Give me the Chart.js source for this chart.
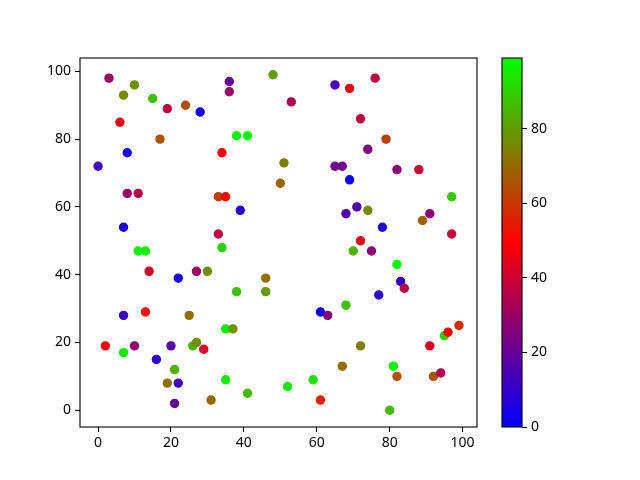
<!DOCTYPE html>
<html>
<head>
<meta charset="utf-8">
<script src="https://cdn.jsdelivr.net/npm/chart.js@4.4.0/dist/chart.umd.min.js"></script>
<style>
  body { margin: 0; background: #fff; }
  #wrap { position: relative; width: 640px; height: 480px; }
  #wrap canvas { position: absolute; left: 0; top: 0; }
</style>
</head>
<body>
<div id="wrap">
  <canvas id="plot" width="640" height="480"></canvas>
  <canvas id="cbar" width="640" height="480"></canvas>
</div>
<script>
// scatter points
const xVals = [3, 7, 10, 15, 6, 19, 24, 28, 36, 36, 38, 41, 17, 8, 34, 0, 8, 11, 33, 35, 39, 7, 33,
  48, 65, 69, 76, 53, 72, 79, 74, 51, 65, 67, 82, 88, 69, 50, 97, 71, 68, 74, 78, 91, 89, 97,
  72, 70, 75, 82, 83, 84, 77, 46, 46, 68, 61, 63, 72, 67, 81, 82, 92, 94, 91, 95, 96, 99, 59, 52, 61, 80,
  11, 13, 34, 14, 27, 30, 22, 38, 7, 13, 25, 35, 37, 2, 7, 10, 20, 26, 27, 29, 16, 21, 19, 22, 35, 41, 21, 31];
const yVals = [98, 93, 96, 92, 85, 89, 90, 88, 97, 94, 81, 81, 80, 76, 76, 72, 64, 64, 63, 63, 59, 54, 52,
  99, 96, 95, 98, 91, 86, 80, 77, 73, 72, 72, 71, 71, 68, 67, 63, 60, 58, 59, 54, 58, 56, 52,
  50, 47, 47, 43, 38, 36, 34, 39, 35, 31, 29, 28, 19, 13, 13, 10, 10, 11, 19, 22, 23, 25, 9, 7, 3, 0,
  47, 47, 48, 41, 41, 41, 39, 35, 28, 29, 28, 24, 24, 19, 17, 19, 19, 19, 20, 18, 15, 12, 8, 8, 9, 5, 2, 3];
const cVals = [30, 76, 78, 87, 45, 37, 65, 3, 20, 30, 97, 97, 66, 6, 47, 12, 30, 35, 61, 49, 8, 5, 37,
  80, 15, 45, 37, 34, 37, 62, 25, 74, 22, 22, 27, 39, 3, 69, 89, 16, 16, 76, 6, 27, 68, 38,
  44, 84, 27, 97, 10, 36, 9, 71, 79, 87, 2, 25, 74, 71, 97, 65, 65, 34, 42, 90, 48, 58, 93, 95, 56, 86,
  97, 96, 90, 41, 31, 77, 4, 88, 11, 53, 71, 95, 78, 49, 95, 28, 17, 84, 77, 42, 9, 84, 71, 12, 95, 86, 19, 70];

const axisTicks = [0, 20, 40, 60, 80, 100];
const cbarTicks = [0, 20, 40, 60, 80];
const cMin = 0;
const cMax = 99;

// brg colormap: blue -> red -> green
function brg(v) {
  let t = (v - cMin) / (cMax - cMin);
  t = Math.max(0, Math.min(1, t));
  let r, g, b;
  if (t <= 0.5) { r = 2 * t; g = 0; b = 1 - 2 * t; }
  else { r = 2 * (1 - t); g = 2 * t - 1; b = 0; }
  return 'rgb(' + Math.round(r * 255) + ',' + Math.round(g * 255) + ',' + Math.round(b * 255) + ')';
}

const FONT = { family: "'Noto Sans', 'DejaVu Sans', sans-serif", size: 14 };

let points = xVals.map((x, i) => ({ x: x, y: yVals[i] }));
let colors = cVals.map(brg);

// box round the plot area
const boxPlugin = {
  id: 'box',
  afterDraw(chart) {
    const a = chart.chartArea, ctx = chart.ctx;
    ctx.save();
    ctx.strokeStyle = '#000';
    ctx.lineWidth = 1.1;
    ctx.strokeRect(a.left, a.top, a.right - a.left, a.bottom - a.top);
    ctx.restore();
  }
};

function fixedTicks(list) {
  return function (scale) { scale.ticks = list.map(v => ({ value: v })); };
}

new Chart(document.getElementById('plot'), {
  type: 'scatter',
  data: {
    datasets: [{
      data: points,
      pointBackgroundColor: colors,
      pointBorderColor: colors,
      pointRadius: 4.1,
      pointBorderWidth: 1.2,
      clip: false
    }]
  },
  options: {
    responsive: false,
    animation: false,
    devicePixelRatio: 1,
    layout: { padding: { left: 0, top: 58, right: 163, bottom: 23 } },
    plugins: { legend: { display: false }, tooltip: { enabled: false } },
    scales: {
      x: {
        type: 'linear', min: -4.95, max: 103.95,
        afterBuildTicks: fixedTicks(axisTicks),
        afterFit(s) { s.height = 30; },
        grid: { display: true, drawOnChartArea: false, drawTicks: true, tickLength: 5, color: '#000', tickWidth: 1.1 },
        border: { display: false },
        ticks: { color: '#000', font: FONT, padding: 3, maxRotation: 0 }
      },
      y: {
        type: 'linear', min: -4.95, max: 103.95,
        afterBuildTicks: fixedTicks(axisTicks),
        afterFit(s) { s.width = 80; },
        grid: { display: true, drawOnChartArea: false, drawTicks: true, tickLength: 5, color: '#000', tickWidth: 1.1 },
        border: { display: false },
        ticks: { color: '#000', font: FONT, padding: 4 }
      }
    }
  },
  plugins: [boxPlugin]
});

// colour bar: gradient fill of its own chart area
const gradPlugin = {
  id: 'grad',
  beforeDatasetsDraw(chart) {
    const a = chart.chartArea, ctx = chart.ctx;
    const g = ctx.createLinearGradient(0, a.bottom, 0, a.top);
    g.addColorStop(0, brg(cMin));
    g.addColorStop(0.5, brg((cMin + cMax) / 2));
    g.addColorStop(1, brg(cMax));
    ctx.save();
    ctx.fillStyle = g;
    ctx.fillRect(a.left, a.top, a.right - a.left, a.bottom - a.top);
    ctx.restore();
  }
};

new Chart(document.getElementById('cbar'), {
  type: 'scatter',
  data: { datasets: [{ data: [] }] },
  options: {
    responsive: false,
    animation: false,
    devicePixelRatio: 1,
    layout: { padding: { left: 502, top: 58, right: 80, bottom: 53 } },
    plugins: { legend: { display: false }, tooltip: { enabled: false } },
    scales: {
      x: { type: 'linear', display: false, min: 0, max: 1 },
      y: {
        type: 'linear', position: 'right', min: cMin, max: cMax,
        afterBuildTicks: fixedTicks(cbarTicks),
        afterFit(s) { s.width = 38; },
        grid: { display: true, drawOnChartArea: false, drawTicks: true, tickLength: 5, color: '#000', tickWidth: 1.1 },
        border: { display: false },
        ticks: { color: '#000', font: FONT, padding: 4 }
      }
    }
  },
  plugins: [gradPlugin, boxPlugin]
});
</script>
</body>
</html>
